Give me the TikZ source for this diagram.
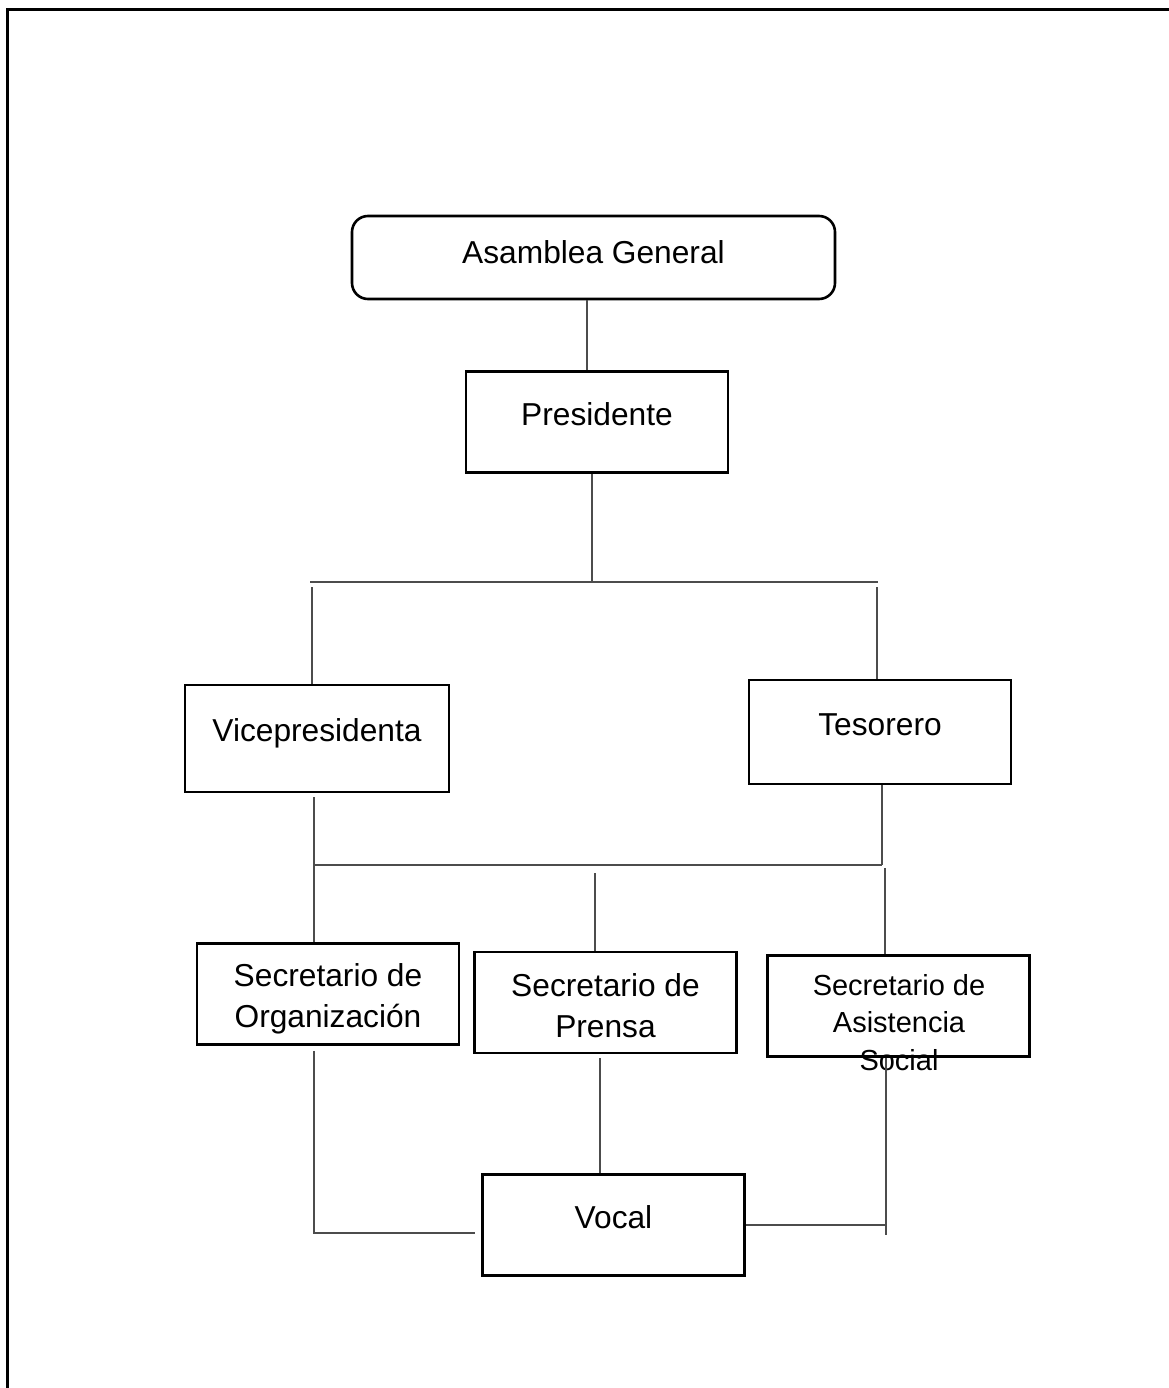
\documentclass[tikz,border=0pt]{standalone}
\usepackage{fontspec}
\setmainfont{Liberation Sans}
\begin{document}
\begin{tikzpicture}[
  x=1pt, y=-1pt,
  every node/.style={font=\fontsize{31.7}{41}\selectfont},
  box/.style={draw, line width=2.6pt, inner sep=0pt,
    minimum width=262pt, minimum height=101pt, align=center},
  oneline/.style={text height=23pt, text depth=17pt},
  small/.style={font=\fontsize{29}{37.5}\selectfont, align=center, inner sep=0pt},
  conn/.style={draw=black!70, line width=1.6pt}]

  \useasboundingbox (0,0) rectangle (1168,1388);
  \draw[line width=3pt] (7,1400) -- (7,10) -- (1180,10);

  \node[box, oneline, rounded corners=16pt, minimum width=483pt,
    minimum height=83pt, text depth=11pt] (asam) at (593.5,257.5) {Asamblea General};
  \node[box, oneline] (pres) at (597,422) {Presidente};
  \node[box, oneline, minimum width=264pt, minimum height=107pt] (vice) at (317,738.5) {Vicepresidenta};
  \node[box, oneline, minimum height=104pt] (teso) at (880,732) {Tesorero};
  \node[box, text height=73.5pt, text depth=6.7pt] (org) at (328,994) {Secretario de\\Organización};
  \node[box, text height=69.7pt, text depth=0pt] (pren) at (605.5,1002.5) {Secretario de\\Prensa};
  \node[box] (asis) at (898.5,1006) {};
  \node[small] (asistxt) at (899,1022.5) {Secretario de\\Asistencia\\Social};
  \node[box, oneline] (voc) at (613.5,1225) {Vocal};

  \coordinate (t0) at (592,582);
  \coordinate (tl) at (310,582);
  \coordinate (tr) at (878,582);
  \coordinate (vl) at (312,587);
  \coordinate (vr) at (877,587);
  \coordinate (ml) at (315,865);
  \coordinate (mr) at (882,865);
  \coordinate (mm) at (595,873);
  \coordinate (ma) at (885,868);
  \coordinate (bl) at (314,1233);
  \coordinate (br) at (886,1235);

  \draw[conn] ([xshift=-6.5]asam.south) -- ([xshift=-6.5]asam.south |- pres.north);
  \draw[conn] (pres.south -| t0) -- (t0);
  \draw[conn] (tl) -- (tr);
  \draw[conn] (vl) -- (vl |- vice.north);
  \draw[conn] (vr) -- (vr |- teso.north);

  \draw[conn] ([xshift=-3,yshift=-4]vice.south) -- ([xshift=-3]vice.south |- org.north);
  \draw[conn] (teso.south -| mr) -- (mr);
  \draw[conn] (ml) -- (mr);
  \draw[conn] (mm) -- (mm |- pren.north);
  \draw[conn] (ma) -- (ma |- asis.north);

  \draw[conn] ([yshift=-5]org.south -| bl) -- (bl) -- ([xshift=-6]voc.west |- bl);
  \draw[conn] ([xshift=-5.5,yshift=-4]pren.south) -- ([xshift=-5.5]pren.south |- voc.north);
  \draw[conn] (br |- asis.south) -- (br);
  \draw[conn] (voc.east) -- (voc.east -| br);
\end{tikzpicture}
\end{document}
